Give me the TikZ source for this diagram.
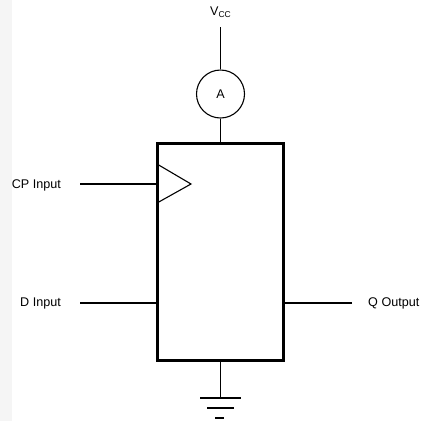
\documentclass[tikz,border=0pt]{standalone}
\usepackage{fontspec}
\setmainfont{Liberation Sans}
\tikzset{
	wire/.style={black, line width=1.6pt},
	boxline/.style={black, line width=3pt, line join=miter},
	thinline/.style={black, line width=1.1pt},
	lbl/.style={inner sep=0pt, font=\fontsize{12.6}{14}\selectfont, text=black}
}
\begin{document}
\begin{tikzpicture}[x=1pt,y=-1pt]
	\useasboundingbox (0,0) rectangle (422,421);
	\fill [black!4] (0,0) rectangle (12,421);
	% chip
	\node [boxline, draw, minimum width=126pt, minimum height=217pt, inner sep=0pt, outer sep=0pt] (chip) at (220,251.5) {};
	% meter
	\node [thinline, draw, circle, minimum size=48pt, inner sep=0pt, lbl] (meter) at (220.5,94) {A};
	% supply
	\node [lbl, anchor=base] (vcc) at (220.5,15) {V\raisebox{-0.3ex}{\fontsize{8.5}{9}\selectfont CC}};
	\coordinate (vcctop) at (220.5,27);
	\draw [wire] (vcctop) -- (meter.north);
	\draw [wire] (meter.south) -- (meter.south |- chip.north);
	% clock
	\node [lbl, anchor=east] (cpin) at (61,185) {CP Input};
	\coordinate (cpend) at (80,184);
	\draw [wire] (cpend) -- (cpend -| chip.west);
	\draw [thinline] (157,164) -- (191,184) -- (157,203);
	% data
	\node [lbl, anchor=east] (din) at (61,303.5) {D Input};
	\coordinate (dend) at (80,303);
	\draw [wire] (dend) -- (dend -| chip.west);
	% output
	\node [lbl, anchor=west] (qout) at (368,303.5) {Q Output};
	\coordinate (qend) at (352,303);
	\draw [wire] (qend) -- (qend -| chip.east);
	% ground
	\coordinate (gnd) at (220.5,398);
	\draw [wire] (gnd |- chip.south) -- (gnd);
	\draw [wire, line width=2pt] (200,398) -- (241,398);
	\draw [wire, line width=2pt] (207,407.5) -- (234,407.5);
	\draw [wire, line width=2pt] (215,418) -- (224,418);
\end{tikzpicture}
\end{document}
